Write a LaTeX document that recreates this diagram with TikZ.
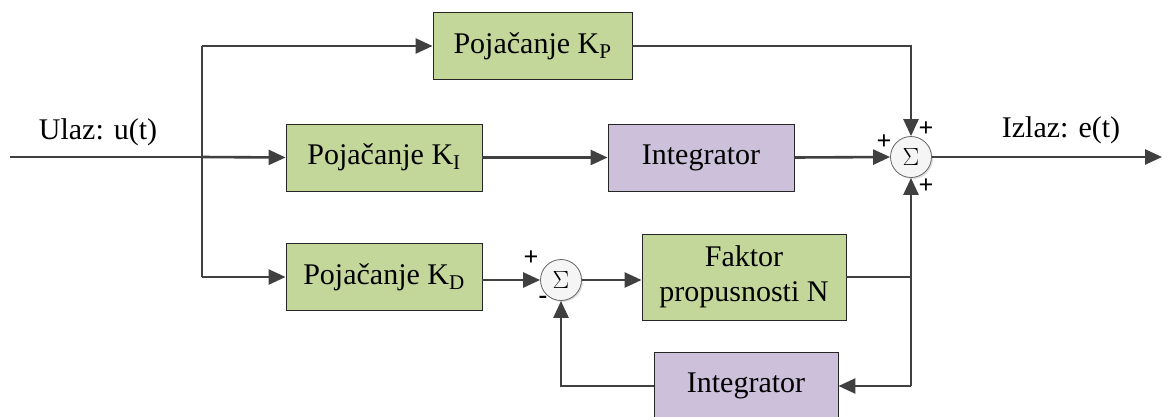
\documentclass[tikz,border=0pt]{standalone}
\usepackage{fontspec}
\setmainfont{Liberation Serif}
\newfontfamily\tms{Liberation Serif}
\usetikzlibrary{arrows.meta,shadows}
\definecolor{lineg}{HTML}{404040}
\definecolor{greenf}{HTML}{C4D79B}
\definecolor{purplef}{HTML}{CCC0DA}
\tikzset{
  blk/.style={draw=black!85, line width=0.9pt, minimum height=67pt, inner sep=0pt, font=\tms\fontsize{30}{33}\selectfont, align=center},
  gbox/.style={blk, fill=greenf},
  pbox/.style={blk, fill=purplef},
  sumc/.style={circle, draw=black!60, line width=0.8pt, fill=black!4, minimum size=41pt, inner sep=0pt, font=\fontsize{30}{30}\selectfont, drop shadow={shadow xshift=1.5pt, shadow yshift=-1.5pt, opacity=0.25}},
  wire/.style={draw=lineg, line width=2.6pt},
  arr/.style={wire, -{Triangle[length=17pt,width=15pt]}},
  lbl/.style={font=\tms\fontsize{30}{33}\selectfont, inner sep=0pt},
  sgn/.style={font=\fontsize{26}{26}\selectfont\bfseries, inner sep=0pt}
}
\begin{document}
\begin{tikzpicture}[x=1pt,y=-1pt]
\useasboundingbox (0,0) rectangle (1162,416);
% boxes
\node[gbox, minimum width=199pt] (kp) at (532.5,46) {Poja\v{c}anje K\textsubscript{P}};
\node[gbox, minimum width=196pt] (ki) at (384,157.5) {Poja\v{c}anje K\textsubscript{I}};
\node[pbox, minimum width=186pt] (int1) at (701,157.5) {Integrator};
\node[gbox, minimum width=196pt] (kd) at (384,277) {Poja\v{c}anje K\textsubscript{D}};
\node[gbox, minimum width=204pt, minimum height=86pt, font=\tms\fontsize{30}{35}\selectfont] (fn) at (744,277) {Faktor\\propusnosti N};
\node[pbox, minimum width=184pt] (int2) at (746,386) {Integrator};
\node[sumc] (s1) at (911,157) {$\Sigma$};
\node[sumc] (s2) at (561,280) {$\Sigma$};
% coordinates
\coordinate (in) at (10,157);
\coordinate (br) at (202,157);
\coordinate (brt) at (202,46);
\coordinate (brb) at (202,277);
\coordinate (out) at (1162,157);
\coordinate (j1) at (911,277);
\coordinate (j2) at (911,386);
% labels
\node[lbl] (lin) at (98,132) {Ulaz: u(t)};
\node[lbl] (lout) at (1061,130) {Izlaz: e(t)};
% wires
\draw[wire] (in) -- (br);
\draw[wire] (brt) -- (brb);
\draw[arr] (brt) -- (kp.west);
\draw[arr] (br) -- (ki.west);
\draw[arr] (brb) -- (kd.west);
\draw[arr] (kp.east) -| (s1.north);
\draw[arr] (ki.east) -- (int1.west);
\draw[arr] (int1.east) -- (s1.west);
\draw[arr] (s1.east) -- (out);
\draw[arr] (kd.east |- s2.west) -- (s2.west);
\draw[arr] (s2.east) -- (fn.west |- s2.east);
\draw[wire] (fn.east) -- (j1);
\draw[arr] (j2) -- (s1.south);
\draw[arr] (j2) -- (int2.east);
\draw[arr] (int2.west) -| (s2.south);
% signs
\node[sgn] (p1) at (884,142) {+};
\node[sgn] (p2) at (926,129) {+};
\node[sgn] (p3) at (926,186) {+};
\node[sgn] (p4) at (531,258) {+};
\node[sgn] (m1) at (543,300) {-};
\end{tikzpicture}
\end{document}
